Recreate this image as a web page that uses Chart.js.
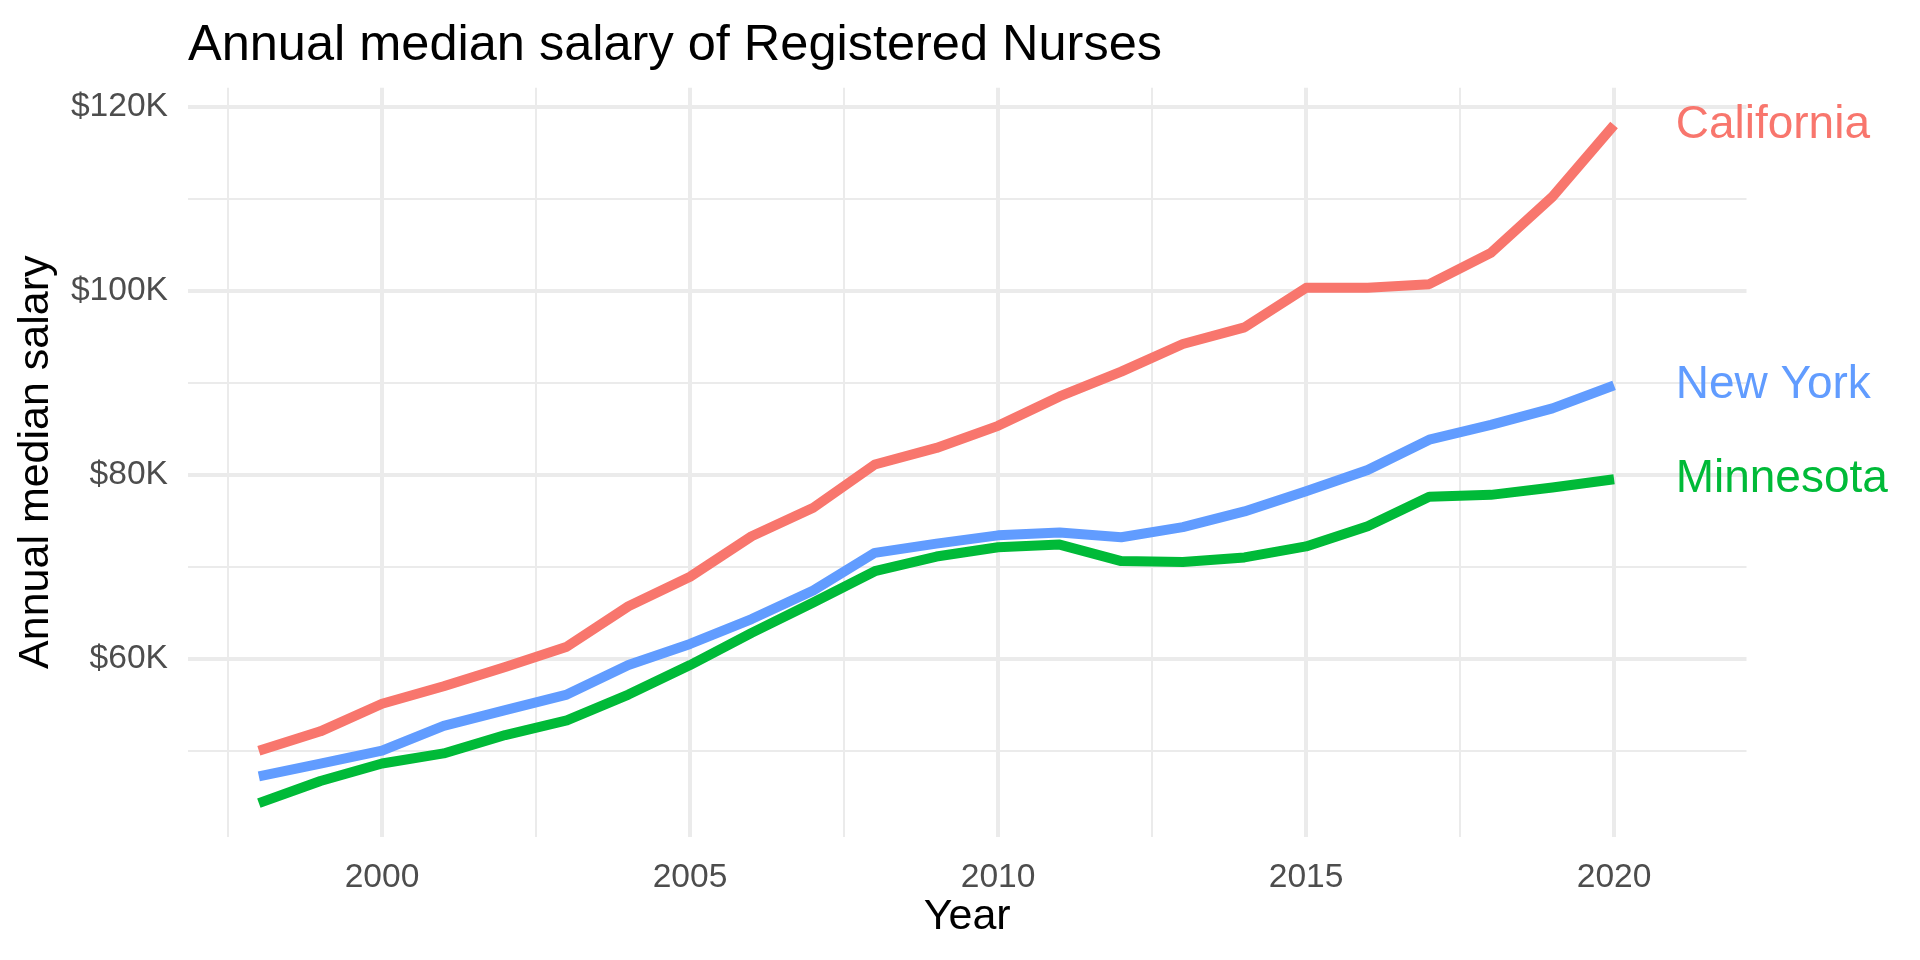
<!DOCTYPE html>
<html lang="en">
<head>
    <meta charset="UTF-8">
    <title>Annual median salary of Registered Nurses</title>
    <style>
        html, body {
            margin: 0;
            padding: 0;
            background: #ffffff;
        }
        #wrap {
            width: 1920px;
            height: 960px;
            position: relative;
        }
    </style>
    <script src="https://cdn.jsdelivr.net/npm/chart.js"></script>
</head>
<body>
    <div id="wrap"><canvas id="salaryChart"></canvas></div>

    <script>
        // data (dollars)
        const years = [1998, 1999, 2000, 2001, 2002, 2003, 2004, 2005, 2006, 2007, 2008, 2009,
                       2010, 2011, 2012, 2013, 2014, 2015, 2016, 2017, 2018, 2019, 2020];
        const california = [50000, 52100, 55100, 57000, 59100, 61300, 65700, 68900, 73300, 76400, 81100, 82900,
                            85300, 88500, 91200, 94200, 96000, 100300, 100300, 100700, 104100, 110200, 118000];
        const newYork = [47200, 48600, 50000, 52700, 54400, 56100, 59300, 61600, 64300, 67400, 71500, 72500,
                         73400, 73700, 73200, 74300, 76000, 78200, 80500, 83800, 85400, 87200, 89700];
        const minnesota = [44300, 46700, 48600, 49700, 51700, 53300, 56100, 59300, 62800, 66100, 69500, 71100,
                           72100, 72400, 70600, 70500, 71000, 72200, 74400, 77600, 77800, 78600, 79500];

        const seriesNames = ['California', 'Minnesota', 'New York'];
        const seriesValues = [california, minnesota, newYork];
        const seriesColors = ['#F8766D', '#00BA38', '#619CFF'];
        const labelYear = 2021;

        const xMajorTicks = [2000, 2005, 2010, 2015, 2020];
        const xMinorTicks = [1997.5, 2002.5, 2007.5, 2012.5, 2017.5];
        const yMajorTicks = [60000, 80000, 100000, 120000];
        const yMajorLabels = ['$60K', '$80K', '$100K', '$120K'];
        const yMinorTicks = [50000, 70000, 90000, 110000];

        const FONT = '"Liberation Sans", Arial, Helvetica, sans-serif';
        const GRID = '#EBEBEB';

        // names at the end of each line, like geom_text in the original
        const endLabels = {
            id: 'endLabels',
            afterDatasetsDraw(chart) {
                const ctx = chart.ctx;
                const xs = chart.scales.x;
                const ys = chart.scales.y;
                ctx.save();
                ctx.font = '46px ' + FONT;
                ctx.textAlign = 'left';
                ctx.textBaseline = 'middle';
                seriesNames.forEach((name, i) => {
                    const vals = seriesValues[i];
                    ctx.fillStyle = seriesColors[i];
                    ctx.fillText(name, xs.getPixelForValue(labelYear), ys.getPixelForValue(vals[vals.length - 1]));
                });
                ctx.restore();
            }
        };

        const datasets = seriesNames.map((name, i) => ({
            label: name,
            data: years.map((yr, j) => ({ x: yr, y: seriesValues[i][j] })),
            borderColor: seriesColors[i],
            backgroundColor: seriesColors[i],
            borderWidth: 10,
            borderCapStyle: 'butt',
            borderJoinStyle: 'round',
            pointRadius: 0,
            pointHoverRadius: 0,
            tension: 0,
            fill: false,
            order: seriesNames.length - i
        }));

        new Chart(document.getElementById('salaryChart'), {
            type: 'line',
            data: { datasets: datasets },
            options: {
                responsive: true,
                maintainAspectRatio: false,
                animation: false,
                layout: { padding: { left: 0, right: 173.5, top: 0, bottom: 0 } },
                plugins: {
                    legend: { display: false },
                    tooltip: { enabled: false },
                    title: {
                        display: true,
                        text: 'Annual median salary of Registered Nurses',
                        align: 'start',
                        fullSize: false,
                        color: '#000000',
                        font: { family: FONT, size: 50.5, weight: 'normal' },
                        padding: { top: 16, bottom: 11.1 }
                    }
                },
                scales: {
                    x: {
                        type: 'linear',
                        min: 1996.85,
                        max: 2022.15,
                        afterBuildTicks: (s) => {
                            s.ticks = xMinorTicks.concat(xMajorTicks).sort((a, b) => a - b).map(v => ({ value: v }));
                        },
                        afterFit: (s) => { s.height = 123.3; },
                        ticks: {
                            autoSkip: false,
                            maxRotation: 0,
                            padding: 20.6,
                            color: '#4D4D4D',
                            font: { family: FONT, size: 33.6 },
                            callback: (v) => xMajorTicks.includes(v) ? String(v) : ''
                        },
                        grid: {
                            color: GRID,
                            drawTicks: false,
                            lineWidth: (c) => (c.tick && xMajorTicks.includes(c.tick.value)) ? 4 : 2
                        },
                        border: { display: false },
                        title: {
                            display: true,
                            text: 'Year',
                            color: '#000000',
                            font: { family: FONT, size: 43 },
                            padding: { top: 0, bottom: 17.4 }
                        }
                    },
                    y: {
                        min: 40650,
                        max: 122050,
                        afterBuildTicks: (s) => {
                            s.ticks = yMinorTicks.concat(yMajorTicks).sort((a, b) => a - b).map(v => ({ value: v }));
                        },
                        afterFit: (s) => { s.width = 188; },
                        ticks: {
                            autoSkip: false,
                            padding: 20,
                            color: '#4D4D4D',
                            font: { family: FONT, size: 33.6 },
                            callback: (v) => {
                                const k = yMajorTicks.indexOf(v);
                                return k >= 0 ? yMajorLabels[k] : '';
                            }
                        },
                        grid: {
                            color: GRID,
                            drawTicks: false,
                            lineWidth: (c) => (c.tick && yMajorTicks.includes(c.tick.value)) ? 4 : 2
                        },
                        border: { display: false },
                        title: {
                            display: true,
                            text: 'Annual median salary',
                            color: '#000000',
                            font: { family: FONT, size: 43 },
                            padding: { top: 10.2, bottom: 0 }
                        }
                    }
                }
            },
            plugins: [endLabels]
        });
    </script>
</body>
</html>
